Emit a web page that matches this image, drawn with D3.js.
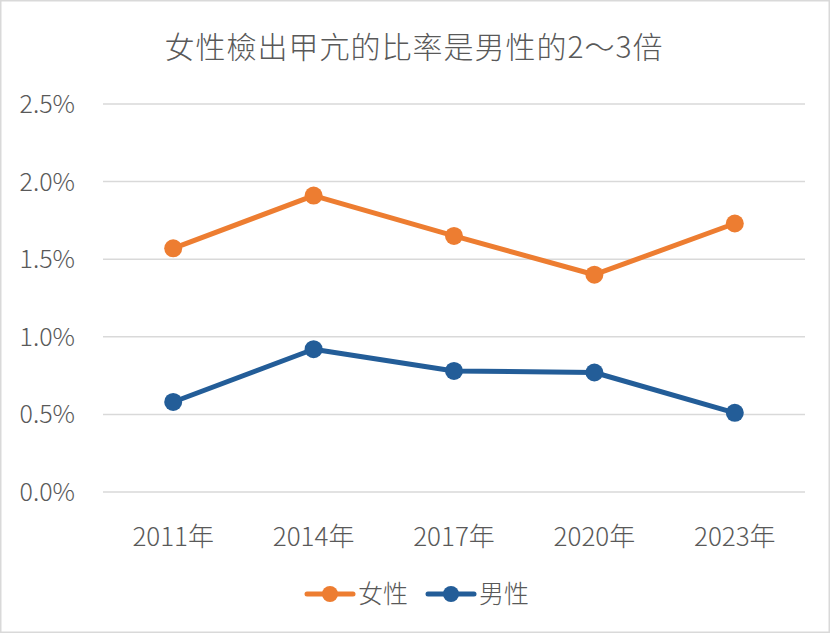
<!DOCTYPE html>
<html>
<head>
<meta charset="utf-8">
<script src="https://cdn.jsdelivr.net/npm/d3@7"></script>
<style>
  body { margin: 0; background: #fff; }
  text { font-family: "Noto Sans CJK TC", "Noto Sans", sans-serif; fill: #595959; font-weight: 300; }
</style>
</head>
<body>
<script>
const years = ["2011年", "2014年", "2017年", "2020年", "2023年"];
const female = [1.57, 1.91, 1.65, 1.40, 1.73];
const male = [0.58, 0.92, 0.78, 0.77, 0.51];
const yTicks = [0, 0.5, 1.0, 1.5, 2.0, 2.5];
const seriesNames = ["女性", "男性"];
const colors = ["#ED7D31", "#235D98"];

const width = 830, height = 633;

const svg = d3.select("body").append("svg")
    .attr("width", width)
    .attr("height", height);

// outer frame
svg.append("rect")
    .attr("x", 0.5).attr("y", 0.5)
    .attr("width", width - 1).attr("height", height - 1)
    .attr("fill", "#fff")
    .attr("stroke", "#d9d9d9")
    .attr("stroke-width", 2);

const plotLeft = 103, plotRight = 805, plotTop = 104, plotBottom = 492;

const x = d3.scaleBand().domain(years).range([plotLeft, plotRight]);
const y = d3.scaleLinear().domain([0, 2.5]).range([plotBottom, plotTop]);

// title
svg.append("text")
    .attr("x", 414).attr("y", 58)
    .attr("text-anchor", "middle")
    .style("font-size", "30px")
    .style("letter-spacing", "1px")
    .text("女性檢出甲亢的比率是男性的2～3倍");

// gridlines
svg.selectAll(".grid")
    .data(yTicks)
    .enter().append("line")
    .attr("x1", plotLeft).attr("x2", plotRight)
    .attr("y1", d => y(d)).attr("y2", d => y(d))
    .attr("stroke", "#d9d9d9")
    .attr("stroke-width", 1.5);

// y labels
svg.selectAll(".ylab")
    .data(yTicks)
    .enter().append("text")
    .attr("x", 75)
    .attr("y", d => y(d))
    .attr("dy", "0.36em")
    .attr("text-anchor", "end")
    .style("font-size", "25px")
    .text(d => d.toFixed(1) + "%");

// x labels
svg.selectAll(".xlab")
    .data(years)
    .enter().append("text")
    .attr("x", d => x(d) + x.bandwidth() / 2)
    .attr("y", 546)
    .attr("text-anchor", "middle")
    .style("font-size", "26px")
    .text(d => d);

const line = d3.line()
    .x((d, i) => x(years[i]) + x.bandwidth() / 2)
    .y(d => y(d));

[female, male].forEach((vals, k) => {
    svg.append("path")
        .datum(vals)
        .attr("d", line)
        .attr("fill", "none")
        .attr("stroke", colors[k])
        .attr("stroke-width", 5)
        .attr("stroke-linejoin", "round");

    svg.selectAll(".dot" + k)
        .data(vals)
        .enter().append("circle")
        .attr("cx", (d, i) => x(years[i]) + x.bandwidth() / 2)
        .attr("cy", d => y(d))
        .attr("r", 9)
        .attr("fill", colors[k]);
});

// legend
const legend = svg.append("g");
const legX = [307, 428];
seriesNames.forEach((name, k) => {
    const g = legend.append("g").attr("transform", `translate(${legX[k]},594)`);
    g.append("line")
        .attr("x1", 0).attr("x2", 46)
        .attr("stroke", colors[k])
        .attr("stroke-width", 5)
        .attr("stroke-linecap", "round");
    g.append("circle")
        .attr("cx", 23).attr("r", 8)
        .attr("fill", colors[k]);
    g.append("text")
        .attr("x", 51)
        .attr("dy", "0.36em")
        .style("font-size", "25px")
        .text(name);
});
</script>
</body>
</html>
